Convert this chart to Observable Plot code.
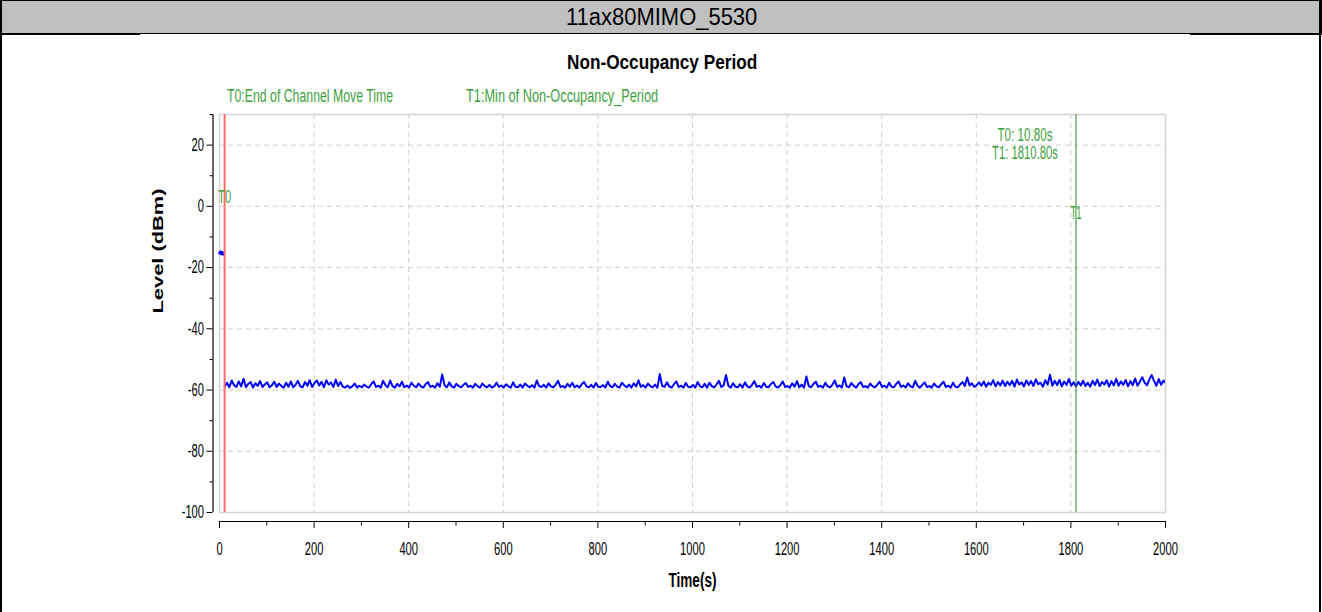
<!DOCTYPE html>
<html>
<head>
<meta charset="utf-8">
<script src="https://cdn.jsdelivr.net/npm/d3@7"></script>
<script src="https://cdn.jsdelivr.net/npm/@observablehq/plot@0.6"></script>
<style>
  html, body { margin: 0; padding: 0; background: #fff; }
  body { width: 1322px; height: 612px; overflow: hidden; position: relative; font-family: "Liberation Sans", Arial, sans-serif; }
  #header { position: absolute; left: 0; top: 0; width: 1320px; height: 32px; background: #c0c0c0; border: 1px solid #000; }
  .bline { position: absolute; background: #000; }
  .lbl { position: absolute; white-space: nowrap; transform-origin: left center; line-height: 1; }
  #chart { position: absolute; left: 0; top: 34px; }
</style>
</head>
<body>
<div id="header"></div>
<div class="bline" style="left:0;top:33px;width:140px;height:2px"></div>
<div class="bline" style="left:1190px;top:33px;width:132px;height:2px"></div>
<div class="bline" style="left:0;top:0;width:2px;height:612px"></div>
<div class="bline" style="left:1319px;top:0;width:2px;height:612px"></div>
<div id="chart"></div>
<div class="lbl" id="hdrText" style="font-size:23px;color:#000">11ax80MIMO_5530</div>
<div class="lbl" id="title" style="font-size:21px;font-weight:bold;color:#000">Non-Occupancy Period</div>
<div class="lbl" id="leg0" style="font-size:18px;color:#3f9f3f">T0:End of Channel Move Time</div>
<div class="lbl" id="leg1" style="font-size:18px;color:#3f9f3f">T1:Min of Non-Occupancy_Period</div>
<script>
// ---- data ----
const chartTitle = "Non-Occupancy Period";
const xLabel = "Time(s)";
const yLabel = "Level (dBm)";
const t0 = 10.8;      // End of Channel Move Time (s)
const t1 = 1810.8;    // Min of Non-Occupancy Period (s)
const annotations = ["T0: 10.80s", "T1: 1810.80s"];
const markerLabels = ["T0", "T1"];

// short burst before T0
const preTimes = [0, 2, 4, 6, 8, 10];
const preLevels = [-15.3, -14.8, -15.6, -15.0, -15.7, -15.2];

// monitored level after T0, one sample every 5 s starting at T0
const sampleStep = 5;
const levels = [
  -58.9,-57.6,-59.1,-56.9,-58.4,-59.0,-57.2,-58.8,-56.3,-59.1,-58.0,-57.4,-59.2,-57.8,-58.6,-57.1,-59.0,-58.2,-57.5,-59.1,
  -58.4,-57.3,-59.0,-57.9,-58.7,-59.2,-57.6,-58.9,-57.2,-59.1,-58.3,-57.0,-58.8,-59.1,-57.4,-58.6,-56.8,-59.0,-57.7,-56.9,
  -58.5,-57.3,-59.1,-56.8,-58.2,-57.5,-59.0,-56.6,-58.7,-57.4,-58.9,-59.2,-58.5,-59.3,-58.8,-57.9,-59.2,-58.6,-59.1,-58.2,
  -58.9,-59.2,-58.1,-57.2,-59.0,-58.6,-59.2,-57.0,-58.4,-59.1,-56.9,-58.7,-59.2,-58.0,-58.8,-57.3,-59.1,-58.5,-59.2,-57.6,
  -58.6,-59.1,-57.9,-58.8,-59.2,-58.1,-57.4,-59.0,-58.6,-59.2,-57.8,-58.9,-54.9,-58.4,-59.1,-57.5,-58.8,-59.2,-58.0,-58.7,
  -59.1,-58.3,-57.7,-59.0,-58.6,-59.2,-58.0,-58.8,-59.2,-57.9,-58.7,-59.1,-58.3,-59.2,-58.8,-57.6,-59.0,-58.5,-59.2,-58.1,
  -58.8,-59.2,-57.5,-58.9,-59.1,-58.2,-59.2,-57.9,-58.6,-59.1,-58.4,-59.2,-56.9,-58.7,-59.0,-58.3,-59.2,-57.8,-58.8,-59.1,
  -58.2,-57.0,-59.0,-58.7,-59.2,-58.0,-58.9,-57.6,-59.1,-58.5,-59.2,-58.1,-57.4,-58.8,-59.1,-58.3,-59.2,-57.7,-58.9,-59.0,
  -58.4,-59.2,-57.3,-58.7,-59.1,-58.0,-58.9,-59.2,-57.6,-58.5,-59.1,-58.2,-59.2,-57.8,-58.8,-56.8,-59.0,-58.4,-59.2,-57.9,
  -58.7,-59.1,-58.2,-59.2,-54.8,-58.6,-59.0,-57.5,-58.8,-59.2,-58.1,-57.2,-59.0,-58.6,-59.2,-57.7,-58.9,-59.1,-58.3,-59.2,
  -57.4,-58.8,-59.1,-58.0,-59.2,-57.6,-58.7,-59.1,-58.2,-57.0,-59.0,-58.5,-55.1,-58.6,-59.2,-57.8,-58.9,-59.1,-58.1,-59.2,
  -57.5,-58.8,-59.2,-58.3,-57.1,-59.0,-58.6,-59.2,-57.7,-58.9,-59.1,-58.0,-57.4,-58.8,-59.2,-58.4,-57.2,-59.0,-58.7,-59.2,
  -57.8,-58.9,-57.1,-59.1,-58.2,-59.2,-55.6,-58.7,-59.1,-58.0,-57.3,-59.0,-58.6,-59.2,-57.6,-58.8,-59.1,-58.3,-56.9,-59.0,
  -58.5,-59.2,-55.9,-58.8,-59.1,-57.7,-58.6,-59.2,-58.1,-57.4,-59.0,-58.7,-59.2,-57.9,-58.8,-59.1,-58.2,-57.3,-59.0,-58.6,
  -59.2,-57.6,-58.9,-59.1,-58.0,-57.2,-59.0,-58.5,-59.2,-57.8,-58.8,-59.1,-57.0,-58.6,-59.2,-58.3,-57.5,-59.0,-58.7,-59.2,
  -57.9,-58.8,-59.1,-58.1,-57.3,-59.0,-58.6,-59.2,-57.6,-58.9,-59.1,-58.2,-57.4,-58.7,-55.9,-58.5,-57.8,-59.0,-58.4,-57.5,
  -58.6,-57.2,-58.9,-57.6,-58.3,-56.8,-58.8,-57.4,-58.5,-56.9,-58.7,-57.3,-58.4,-57.0,-58.9,-56.6,-58.2,-57.5,-58.8,-56.9,
  -58.3,-57.1,-58.7,-56.5,-58.1,-57.6,-58.9,-56.8,-58.2,-55.0,-58.6,-57.0,-58.4,-56.7,-58.8,-57.2,-58.3,-56.4,-58.6,-57.5,
  -58.8,-57.3,-58.5,-56.9,-58.7,-57.6,-58.9,-57.0,-58.4,-56.6,-58.7,-57.4,-58.2,-56.8,-58.9,-57.1,-58.5,-56.3,-58.6,-57.2,
  -58.3,-56.7,-58.8,-57.1,-58.4,-56.2,-58.6,-57.3,-55.8,-57.6,-58.5,-56.6,-55.1,-57.0,-58.6,-56.4,-58.3,-56.9,-57.8,-58.4
];

// axis ticks
const xTicks = [0, 200, 400, 600, 800, 1000, 1200, 1400, 1600, 1800, 2000];
const xMinor = [100, 300, 500, 700, 900, 1100, 1300, 1500, 1700, 1900];
const xGrid = [200, 400, 600, 800, 1000, 1200, 1400, 1600, 1800];
const yTicks = [-100, -80, -60, -40, -20, 0, 20];
const yMinor = [-90, -70, -50, -30, -10, 10, 30];
const yGrid = [-80, -60, -40, -20, 0, 20];

// ---- build ----
const mainData = levels.map((v, i) => ({t: t0 + i * sampleStep, v}));
const preData = preTimes.map((t, i) => ({t, v: preLevels[i]}));

const green = "#3f9f3f";
const gridStyle = {stroke: "#cfcfcf", strokeWidth: 1, strokeDasharray: "5,4"};

const plot = Plot.plot({
  width: 1322,
  height: 578,
  marginLeft: 219,
  marginRight: 157,
  marginTop: 80,
  marginBottom: 100,
  style: {fontFamily: "Liberation Sans, Arial, sans-serif", fontSize: "18px", color: "#000", background: "transparent", overflow: "visible"},
  x: {domain: [0, 2000]},
  y: {domain: [-100, 30]},
  marks: [
    Plot.ruleX(xGrid, gridStyle),
    Plot.ruleY(yGrid, gridStyle),
    Plot.frame({stroke: "#d4d4d4", strokeWidth: 1.5}),
    // axis spines offset from the frame
    Plot.ruleX([0], {dx: -6.5, stroke: "#000", strokeWidth: 1.2}),
    Plot.ruleY([-100], {dy: 9, stroke: "#000", strokeWidth: 1.2}),
    Plot.axisX(xTicks, {anchor: "bottom", dy: 9, tickSize: 7, tickPadding: 14, label: null, fontSize: 18, tickFormat: d => String(d)}),
    Plot.axisX(xMinor, {anchor: "bottom", dy: 9, tickSize: 4.5, label: null, tickFormat: () => ""}),
    Plot.axisY(yTicks, {anchor: "left", dx: -6.5, tickSize: 6, tickPadding: 3, label: null, fontSize: 18, tickFormat: d => String(d)}),
    Plot.axisY(yMinor, {anchor: "left", dx: -6.5, tickSize: 3, label: null, tickFormat: () => ""}),
    // data
    Plot.line(mainData, {x: "t", y: "v", stroke: "#0000ff", strokeWidth: 2, clip: true}),
    Plot.line(preData, {x: "t", y: "v", stroke: "#0000ff", strokeWidth: 2.5}),
    // markers
    Plot.ruleX([t0], {stroke: "#ff6b6b", strokeWidth: 2}),
    Plot.ruleX([t1], {stroke: "#2a8a2a", strokeWidth: 1}),
    Plot.text([markerLabels[0]], {x: [t0], y: [0], lineAnchor: "bottom", dy: -3, fill: green, fontSize: 19}),
    Plot.text([markerLabels[1]], {x: [t1], y: [0], lineAnchor: "top", dy: -1, fill: green, fontSize: 19}),
    Plot.text([annotations[0]], {x: [t1], frameAnchor: "top", dx: -51, dy: 20.5, lineAnchor: "middle", fill: green, fontSize: 18}),
    Plot.text([annotations[1]], {x: [t1], frameAnchor: "top", dx: -51, dy: 39, lineAnchor: "middle", fill: green, fontSize: 18}),
    // axis titles
    Plot.text([yLabel], {frameAnchor: "left", rotate: -90, dx: -61, lineAnchor: "middle", fontWeight: "bold", fontSize: 14, fill: "#000"}),
    Plot.text([xLabel], {frameAnchor: "bottom", dy: 68, lineAnchor: "middle", fontWeight: "bold", fontSize: 20, fill: "#000"})
  ]
});
document.getElementById("chart").appendChild(plot);

// condensed look of the original font: fixed target widths for known strings,
// and a uniform squeeze for the numeric tick labels
const targetWidth = {
  "T0": 13, "T1": 11,
  "T0: 10.80s": 55, "T1: 1810.80s": 66,
  "Level (dBm)": 125, "Time(s)": 48
};
plot.querySelectorAll("text").forEach(t => {
  const s = t.textContent;
  if (!s) return;
  let target;
  if (s in targetWidth) target = targetWidth[s];
  else if (/^-?\d+$/.test(s)) {
    t.style.fontSize = "18px";
    target = t.getComputedTextLength() * 0.62;
  } else return;
  t.setAttribute("textLength", target);
  t.setAttribute("lengthAdjust", "spacingAndGlyphs");
});

// html labels: place by left edge (or center) and vertical center, scaled to width
function place(id, x, cy, width, centered) {
  const el = document.getElementById(id);
  const w = el.offsetWidth, h = el.offsetHeight;
  const left = centered ? x - width / 2 : x;
  el.style.left = left + "px";
  el.style.top = (cy - h / 2) + "px";
  el.style.transform = `scaleX(${width / w})`;
}
place("hdrText", 661, 17, 191, true);
place("title", 662, 61, 190, true);
place("leg0", 227, 96, 166, false);
place("leg1", 466, 96, 192, false);
</script>
</body>
</html>
